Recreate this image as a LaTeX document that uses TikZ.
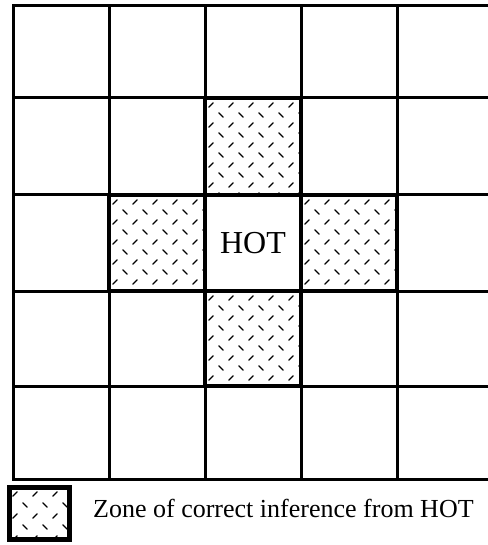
\documentclass[tikz,border=0pt]{standalone}
\usepackage{fontspec}
\setmainfont{Liberation Serif}
\tikzset{
  gridline/.style={line width=3pt, line cap=rect},
  zoneline/.style={line width=3.6pt, line cap=rect},
  hatch/.style={line width=1.3pt, line cap=round},
  celltext/.style={font=\fontsize{32}{34}\selectfont, inner sep=0pt},
  legendtext/.style={font=\fontsize{26}{28}\selectfont, inner sep=0pt, anchor=base west},
}
\newcommand{\hatchcell}[6]{%
  \begin{scope}
    \clip (#1,#2) rectangle ++(#3,#4);
    \foreach \r in {0,...,12} {
      \foreach \c in {0,...,6} {
        \pgfmathsetmacro{\px}{#1+6+#5*\c+0.5*#5*mod(\r,2)}
        \pgfmathsetmacro{\py}{#2+7+#6*\r}
        \ifodd\r
          \draw[hatch] (\px-2.2,\py-2.2) -- (\px+2.2,\py+2.2);
        \else
          \draw[hatch] (\px-2.2,\py+2.2) -- (\px+2.2,\py-2.2);
        \fi
      }
    }
  \end{scope}}
\begin{document}
\begin{tikzpicture}[x=1pt,y=-1pt]
  \useasboundingbox (0,0) rectangle (487,545);
  % hatched zones
  \hatchcell{205}{98}{96}{97}{20}{10}
  \hatchcell{109}{195}{96}{96}{20}{10}
  \hatchcell{301}{195}{96}{96}{20}{10}
  \hatchcell{205}{291}{96}{95}{20}{10}
  % grid
  \foreach \y in {6,98,195,291,386,479}
    \draw[gridline] (13,\y) -- (487,\y);
  \foreach \x in {13,109,205,301,397}
    \draw[gridline] (\x,6) -- (\x,479);
  % zone borders
  \draw[zoneline] (205,98) rectangle (301,195);
  \draw[zoneline] (109,195) rectangle (205,291);
  \draw[zoneline] (301,195) rectangle (397,291);
  \draw[zoneline] (205,291) rectangle (301,386);
  \draw[zoneline] (205,195) rectangle (301,291);
  % HOT
  \node[celltext] (hot) at (253,243) {HOT};
  % legend
  \hatchcell{9}{487}{61}{53}{20}{11}
  \draw[line width=5pt] (9.5,487.5) rectangle (69.5,539.5);
  \node[legendtext] (legend) at (93,517) {Zone of correct inference from HOT};
\end{tikzpicture}
\end{document}
